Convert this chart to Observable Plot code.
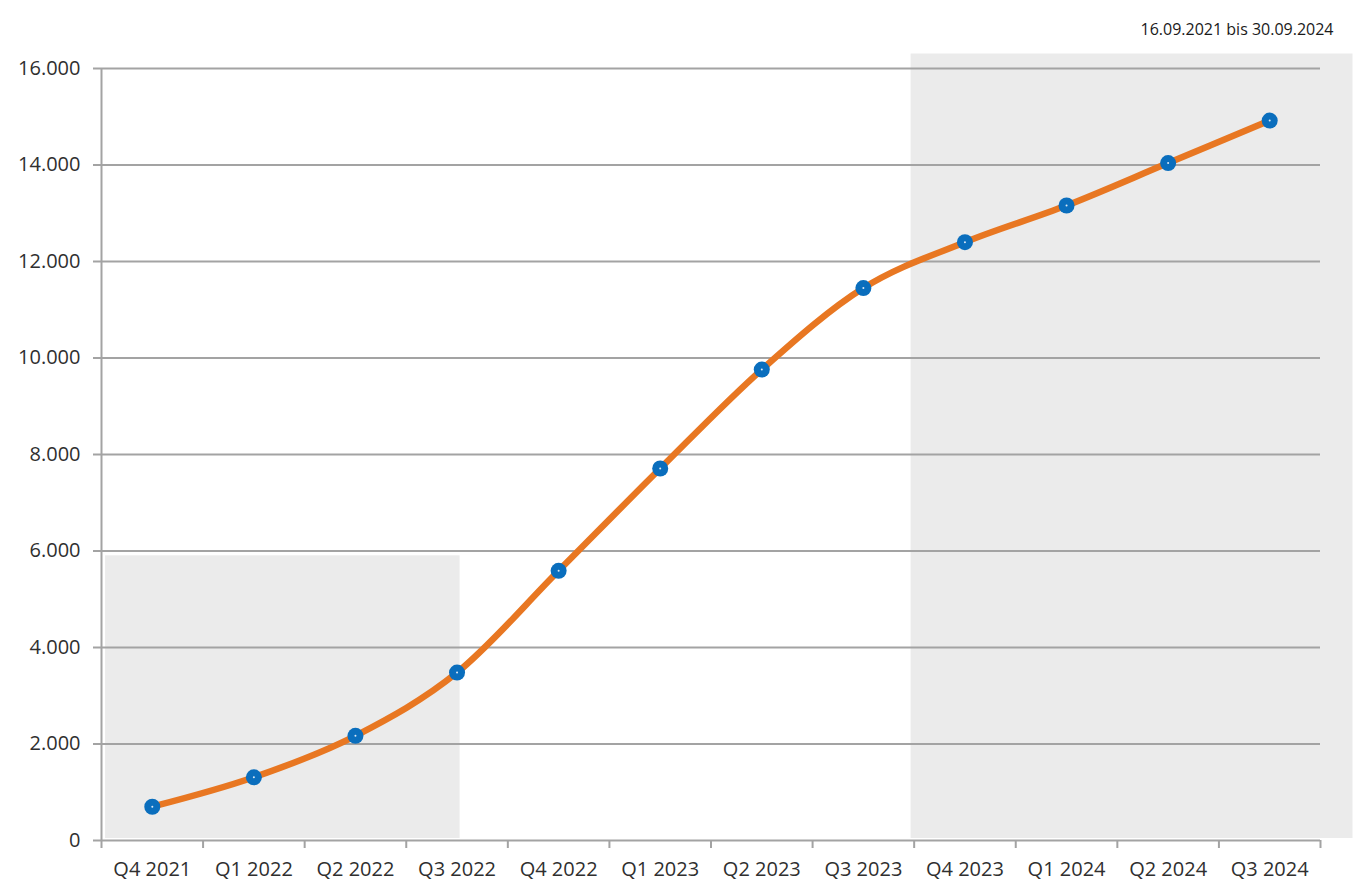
<!DOCTYPE html>
<html>
<head>
<meta charset="utf-8">
<script src="https://cdn.jsdelivr.net/npm/d3@7"></script>
<script src="https://cdn.jsdelivr.net/npm/@observablehq/plot@0.6"></script>
<style>
  html, body { margin: 0; padding: 0; background: #fff; }
  #chart svg { display: block; }
</style>
</head>
<body>
<div id="chart"></div>
<script>
// Quarterly cumulative count, Q4 2021 – Q3 2024
const quarters = ["Q4 2021", "Q1 2022", "Q2 2022", "Q3 2022", "Q4 2022", "Q1 2023",
                  "Q2 2023", "Q3 2023", "Q4 2023", "Q1 2024", "Q2 2024", "Q3 2024"];
const values = [700, 1310, 2170, 3480, 5590, 7710, 9760, 11450, 12400, 13160, 14040, 14920];
const yTicks = [0, 2000, 4000, 6000, 8000, 10000, 12000, 14000, 16000];
const periodLabel = "16.09.2021 bis 30.09.2024";

// Shaded periods (first and last quarters of the range)
const shadeFrom = ["Q4 2021", "Q4 2023"];
const shadeTo = ["Q3 2022", "Q3 2024"];
const shadeTop = [5900, 16300];

const data = quarters.map((q, i) => ({i, q, v: values[i]}));
const shades = shadeFrom.map((f, k) => ({
  x1: quarters.indexOf(f) - (k === 0 ? 0.46 : 0.53),
  x2: quarters.indexOf(shadeTo[k]) + (k === 0 ? 0.03 : 0.82),
  top: shadeTop[k]
}));
const boundaries = d3.range(quarters.length + 1).map(i => i - 0.5);
const centers = d3.range(quarters.length);
const fmt = d => d.toLocaleString("de-DE");

const gridColor = "#a3a3a3";
const textColor = "#2f2f2f";
const font = "'Open Sans', sans-serif";

const chart = Plot.plot({
  width: 1356,
  height: 884,
  marginLeft: 101,
  marginRight: 36,
  marginTop: 68,
  marginBottom: 44,
  style: {fontFamily: font, background: "#fff", overflow: "visible"},
  x: {domain: [-0.5, quarters.length - 0.5], axis: null},
  y: {domain: [0, 16000], axis: null},
  marks: [
    Plot.rect(shades, {x1: "x1", x2: "x2", y1: 0, y2: "top", fill: "#ebebeb", insetBottom: 2}),
    // horizontal gridlines with short tick stubs on the left
    Plot.ruleY(yTicks.filter(d => d > 0), {stroke: gridColor, strokeWidth: 2, x1: -0.5, x2: quarters.length - 0.5}),
    Plot.axisY({ticks: yTicks, tickSize: 8, tickPadding: 13, tickFormat: fmt, stroke: gridColor,
      strokeWidth: 2, fontSize: 20, fill: textColor, fontFamily: font}),
    // y axis line
    Plot.ruleX([-0.5], {y1: 0, y2: 16000, stroke: gridColor, strokeWidth: 2}),
    // x axis line and category ticks
    Plot.ruleY([0], {x1: -0.5, x2: quarters.length - 0.5, stroke: gridColor, strokeWidth: 2}),
    Plot.axisX({ticks: boundaries, tickSize: 8, text: null, stroke: gridColor, strokeWidth: 2}),
    Plot.axisX({ticks: centers, tickSize: 0, tickPadding: 21, tickFormat: i => quarters[i],
      fontSize: 20, fill: textColor, fontFamily: font}),
    Plot.line(data, {x: "i", y: "v", stroke: "#e87722", strokeWidth: 6.5, curve: "cardinal"}),
    Plot.dot(data, {x: "i", y: "v", r: 8, fill: "#0a6ebd", stroke: "none"}),
    Plot.dot(data, {x: "i", y: "v", r: 1, fill: "#dbe9f6", stroke: "none"}),
    Plot.text([periodLabel], {frameAnchor: "top-right", dx: 13, dy: -45, fontSize: 16,
      fill: "#1a1a1a", fontFamily: font})
  ]
});
document.getElementById("chart").append(chart);
</script>
</body>
</html>
